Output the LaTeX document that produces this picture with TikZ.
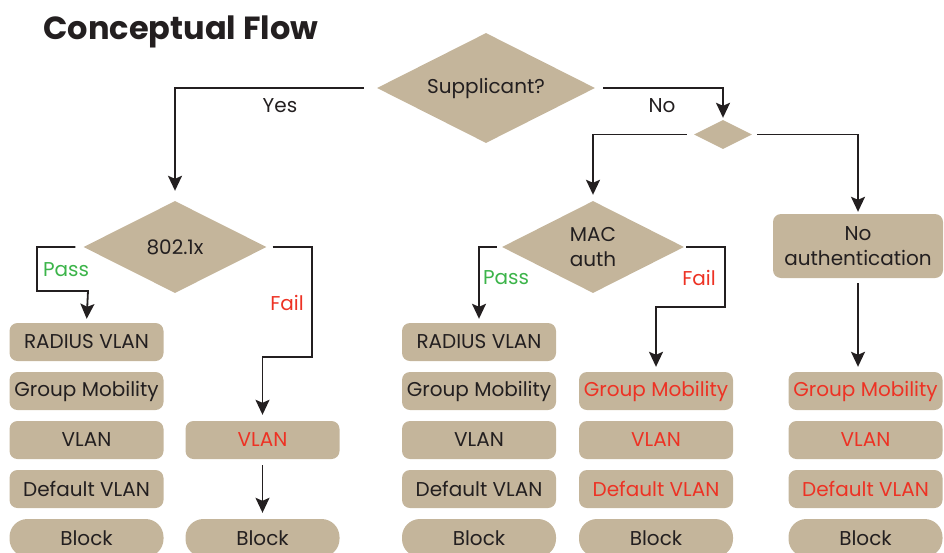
\documentclass[tikz,border=0pt]{standalone}
\usepackage{fontspec}
\setmainfont{Poppins}
\usetikzlibrary{shapes.geometric,arrows.meta}
\definecolor{tan}{RGB}{196,181,155}
\definecolor{ink}{RGB}{35,31,32}
\definecolor{failred}{RGB}{237,50,36}
\definecolor{passgreen}{RGB}{60,180,74}
\tikzset{
  dec/.style={diamond, fill=tan, inner sep=0pt, shape aspect=2, text=ink, font=\fontsize{20}{22}\selectfont, align=center},
  box/.style={rectangle, rounded corners=8pt, fill=tan, minimum width=154pt, minimum height=38pt, inner sep=0pt, text=ink, font=\fontsize{20}{22}\selectfont},
  pill/.style={box, rounded corners=18pt},
  redt/.style={text=failred},
  conn/.style={draw=ink, line width=1.8pt, -{Stealth[length=15pt,width=14pt,inset=3pt]}},
  lbl/.style={font=\fontsize{20}{22}\selectfont, text=ink},
}
\begin{document}
\begin{tikzpicture}[x=1pt,y=-1pt]
\useasboundingbox (0,0) rectangle (944,552);
\node[anchor=base west, font=\fontsize{32}{36}\bfseries\selectfont, text=ink] (title) at (40,39) {Conceptual Flow};

% decisions
\node[dec, minimum width=218pt, minimum height=110pt] (sup) at (486,88) {Supplicant?};
\node[dec, minimum width=58pt, minimum height=29pt] (split) at (723,134.5) {};
\node[dec, minimum width=183pt, minimum height=92pt] (dot1x) at (175,247) {802.1x};
\node[dec, minimum width=182pt, minimum height=92pt] (mac) at (593,247) {MAC\\[3pt]auth};
\node[box, minimum width=170pt, minimum height=64pt, align=center] (noauth) at (858,246) {No\\[3pt]authentication};

% column 1
\node[box] (a1) at (86.5,342) {RADIUS VLAN};
\node[box] (a2) at (86.5,391) {Group Mobility};
\node[box] (a3) at (86.5,440) {VLAN};
\node[box] (a4) at (86.5,489) {Default VLAN};
\node[pill] (a5) at (86.5,538) {Block};
% column 2
\node[box, redt] (b3) at (262.5,440) {VLAN};
\node[pill] (b5) at (262.5,538) {Block};
% column 3
\node[box] (c1) at (479,342) {RADIUS VLAN};
\node[box] (c2) at (479,391) {Group Mobility};
\node[box] (c3) at (479,440) {VLAN};
\node[box] (c4) at (479,489) {Default VLAN};
\node[pill] (c5) at (479,538) {Block};
% column 4
\node[box, redt] (d2) at (656,391) {Group Mobility};
\node[box, redt] (d3) at (656,440) {VLAN};
\node[box, redt] (d4) at (656,489) {Default VLAN};
\node[pill] (d5) at (656,538) {Block};
% column 5
\node[box, redt] (e2) at (865.5,391) {Group Mobility};
\node[box, redt] (e3) at (865.5,440) {VLAN};
\node[box, redt] (e4) at (865.5,489) {Default VLAN};
\node[pill] (e5) at (865.5,538) {Block};

% connectors
\draw[conn, shorten <=13pt, shorten >=10pt] (sup.west) -| (dot1x.north);
\draw[conn, shorten <=8pt, shorten >=2pt] (sup.east) -| (split.north);
\draw[conn, shorten <=7pt, shorten >=6pt] (split.west) -| (mac.north);
\draw[conn, shorten <=5pt, shorten >=2pt] (split.east) -| (noauth.north);
\draw[conn, shorten <=8pt, shorten >=4pt] (dot1x.west) -- (37,247) |- (88,291) -- (a1.north);
\draw[conn, shorten <=6pt, shorten >=6pt] (dot1x.east) -- (312,247) |- (262.5,357) -- (b3.north);
\draw[conn, shorten <=6pt, shorten >=6pt] (b3.south) -- (b5.north);
\draw[conn, shorten <=5pt, shorten >=4pt] (mac.west) -| (c1.north);
\draw[conn, shorten <=2pt, shorten >=5pt] (mac.east) -- (725,247) |- (656,307) -- (d2.north);
\draw[conn, shorten <=5pt, shorten >=5pt] (noauth.south) -- (noauth.south |- e2.north);

% labels
\node[lbl] (yes) at (280,106) {Yes};
\node[lbl] (no) at (662,106) {No};
\node[lbl, text=passgreen] (pass1) at (66,270) {Pass};
\node[lbl, text=failred] (fail1) at (287,303) {Fail};
\node[lbl, text=passgreen] (pass2) at (506,278) {Pass};
\node[lbl, text=failred] (fail2) at (699,278) {Fail};
\end{tikzpicture}
\end{document}
